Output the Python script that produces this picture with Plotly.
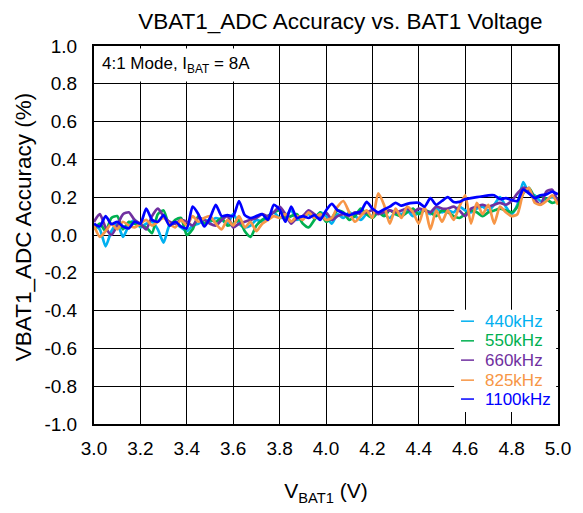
import plotly.graph_objects as go

# supply voltage sweep, 3.0 V to 5.0 V in 25 mV steps
vbat = [round(3.0 + 0.025 * i, 3) for i in range(81)]

acc_440 = [0.05, 0.03, -0.06, 0.02, 0.06, -0.01, 0.05, 0.08, 0.04, 0.06, 0.07, 0.03, -0.04, 0.05, 0.06, 0.04, 0.02, 0.05, 0.06, 0.08, 0.07,
           0.09, 0.08, 0.06, 0.11, 0.06, 0.04, 0.05, 0.08, 0.07, 0.10, 0.12, 0.09, 0.10, 0.13, 0.08, 0.10, 0.11, 0.09, 0.12, 0.10,
           0.06, 0.11, 0.09, 0.12, 0.10, 0.08, 0.11, 0.10, 0.12, 0.11, 0.09, 0.12, 0.11, 0.13, 0.10, 0.12, 0.13, 0.11, 0.14, 0.12,
           0.13, 0.12, 0.15, 0.13, 0.12, 0.14, 0.15, 0.13, 0.16, 0.20, 0.15, 0.11, 0.16, 0.28, 0.22, 0.21, 0.18, 0.19, 0.20, 0.19, 0.21]
acc_550 = [0.03, 0.06, 0.02, 0.09, 0.10, 0.03, 0.07, 0.06, 0.05, 0.04, 0.01, 0.11, 0.13, 0.05, 0.08, 0.09, 0.00, 0.03, 0.10, 0.06, 0.08,
           0.07, 0.09, 0.05, 0.06, 0.08, 0.02, -0.01, 0.05, 0.08, 0.10, 0.12, 0.13, 0.09, 0.10, 0.11, 0.06, 0.04, 0.08, 0.12, 0.07,
           0.09, 0.13, 0.12, 0.08, 0.10, 0.14, 0.11, 0.09, 0.12, 0.10, 0.13, 0.11, 0.10, 0.12, 0.14, 0.11, 0.13, 0.12, 0.10, 0.13,
           0.12, 0.10, 0.09, 0.11, 0.13, 0.12, 0.10, 0.12, 0.13, 0.14, 0.13, 0.12, 0.15, 0.22, 0.25, 0.20, 0.21, 0.19, 0.17, 0.18, 0.19]
acc_660 = [0.07, 0.11, 0.04, 0.00, 0.05, 0.11, 0.12, 0.08, 0.06, 0.03, 0.10, 0.14, 0.10, 0.07, 0.06, 0.08, 0.07, 0.05, 0.09, 0.08, 0.06,
           0.05, 0.08, 0.10, 0.04, 0.06, 0.07, 0.08, 0.09, 0.11, 0.10, 0.12, 0.15, 0.11, 0.06, 0.09, 0.10, 0.13, 0.11, 0.09, 0.12,
           0.08, 0.10, 0.11, 0.10, 0.12, 0.11, 0.12, 0.13, 0.11, 0.12, 0.13, 0.12, 0.13, 0.14, 0.12, 0.14, 0.13, 0.12, 0.15, 0.14,
           0.14, 0.15, 0.13, 0.10, 0.14, 0.15, 0.16, 0.15, 0.16, 0.17, 0.16, 0.18, 0.22, 0.25, 0.24, 0.19, 0.16, 0.23, 0.24, 0.17, 0.19]
acc_825 = [0.05, -0.01, 0.02, 0.06, 0.03, 0.07, 0.05, 0.04, 0.06, 0.08, 0.05, 0.07, 0.09, 0.06, 0.04, 0.08, 0.05, 0.10, 0.07, 0.09, 0.10,
           0.06, 0.03, 0.08, 0.05, 0.10, 0.04, 0.07, 0.02, 0.06, 0.08, 0.10, 0.09, 0.11, 0.07, 0.10, 0.08, 0.12, 0.09, 0.11, 0.08,
           0.09, 0.15, 0.18, 0.12, 0.07, 0.10, 0.13, 0.09, 0.22, 0.16, 0.06, 0.14, 0.09, 0.15, 0.12, 0.06, 0.15, 0.03, 0.13, 0.07,
           0.13, 0.08, 0.15, 0.21, 0.06, 0.17, 0.11, 0.16, 0.06, 0.15, 0.12, 0.10, 0.11, 0.22, 0.25, 0.17, 0.16, 0.18, 0.21, 0.16, 0.18]
acc_1100 = [0.06, 0.045, 0.10, 0.057, 0.07, 0.045, 0.035, 0.07, 0.06, 0.14, 0.08, 0.07, 0.105, 0.05, 0.07, 0.045, 0.035, 0.15, 0.11, 0.045, 0.09,
            0.16, 0.10, 0.105, 0.10, 0.18, 0.105, 0.09, 0.10, 0.11, 0.08, 0.16, 0.135, 0.07, 0.15, 0.09, 0.10, 0.09, 0.105, 0.08, 0.13,
            0.165, 0.13, 0.115, 0.105, 0.115, 0.125, 0.175, 0.14, 0.12, 0.135, 0.15, 0.17, 0.155, 0.165, 0.17, 0.17, 0.15, 0.195, 0.16, 0.18,
            0.20, 0.175, 0.175, 0.19, 0.195, 0.20, 0.205, 0.21, 0.21, 0.19, 0.195, 0.185, 0.18, 0.24, 0.22, 0.195, 0.21, 0.215, 0.23, 0.215, 0.225]

names = ['440kHz', '550kHz', '660kHz', '825kHz', '1100kHz']
colors = ['#00B0F0', '#00B050', '#7030A0', '#F79646', '#0000FF']
series = [acc_440, acc_550, acc_660, acc_825, acc_1100]

y_ticks = [-1.0, -0.8, -0.6, -0.4, -0.2, 0.0, 0.2, 0.4, 0.6, 0.8, 1.0]
x_ticks = [3.0, 3.2, 3.4, 3.6, 3.8, 4.0, 4.2, 4.4, 4.6, 4.8, 5.0]

fig = go.Figure()
for n, c, s in zip(names, colors, series):
  fig.add_trace(go.Scatter(x=vbat, y=s, mode='lines', name=n, showlegend=False,
                           line=dict(color=c, width=2.7, shape='spline', smoothing=0.6)))

axis_common = dict(showline=True, linecolor='black', linewidth=2, mirror=True,
                   showgrid=True, gridcolor='black', gridwidth=1, zeroline=False, ticks='',
                   tickfont=dict(size=19, color='black'))

# page body has an 8px margin, so the figure is a bit smaller than the window
fig.update_layout(
  width=575, height=505,
  margin=dict(l=86, r=15, t=38, b=89),
  paper_bgcolor='white', plot_bgcolor='white',
  font=dict(family='Liberation Sans, Arial, sans-serif', color='black'),
  title=dict(text='VBAT1_ADC Accuracy vs. BAT1 Voltage', x=0.578, xanchor='center', y=0.975, yanchor='middle',
             font=dict(size=22.5)),
  xaxis=dict(range=[3.0, 5.0], tickvals=x_ticks, ticktext=['%.1f' % v for v in x_ticks], ticklabelstandoff=6,
             title=dict(text='V<sub>BAT1</sub> (V)', font=dict(size=21), standoff=26), **axis_common),
  yaxis=dict(range=[-1.0, 1.0], tickvals=y_ticks, ticktext=['%.1f' % v for v in y_ticks], ticklabelstandoff=11,
             **axis_common),
  showlegend=False,
)

# y title as a rotated annotation so it can sit further left
fig.add_annotation(xref='paper', yref='paper', x=-0.152, y=0.522, xanchor='center', yanchor='middle',
                   text='VBAT1_ADC Accuracy (%)', textangle=-90, showarrow=False, font=dict(size=22.5))

# custom legend box in the lower right
fig.add_shape(type='rect', xref='paper', yref='paper', x0=0.776, x1=0.996, y0=0.032, y1=0.302,
              fillcolor='white', line=dict(width=0), layer='above')
row_y = [0.272, 0.220, 0.169, 0.116, 0.066]
for n, c, ry in zip(names, colors, row_y):
  fig.add_shape(type='line', xref='paper', yref='paper', x0=0.791, x1=0.819, y0=ry, y1=ry,
                line=dict(color=c, width=1.5), layer='above')
  fig.add_annotation(xref='paper', yref='paper', x=0.838, y=ry, xanchor='left', yanchor='middle',
                     text=n, showarrow=False, font=dict(size=17, color=c))

fig.add_annotation(xref='paper', yref='paper', x=0.004, y=0.995, xanchor='left', yanchor='top',
                   text='4:1 Mode, I<sub>BAT</sub> = 8A', showarrow=False, bgcolor='white',
                   font=dict(size=17), borderpad=5)

fig.write_html("out.html")
